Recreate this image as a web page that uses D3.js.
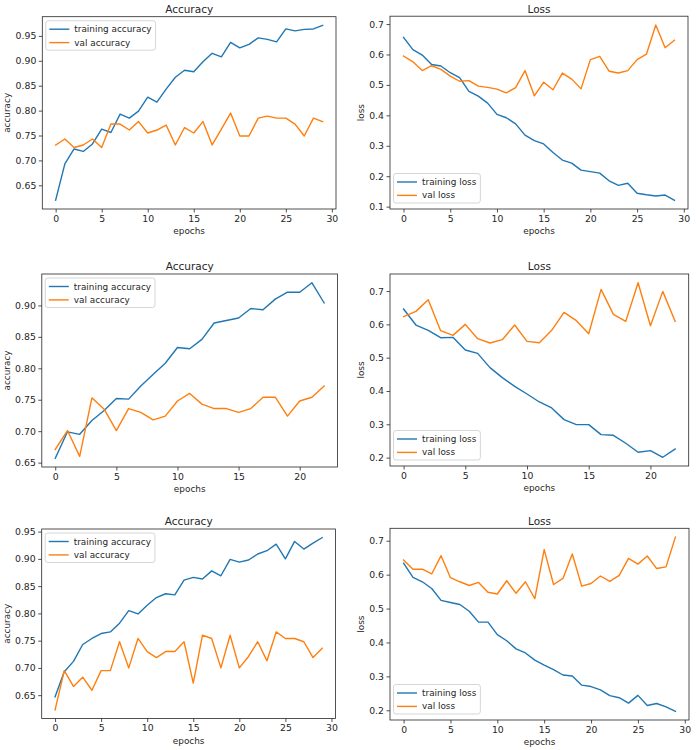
<!DOCTYPE html>
<html>
<head>
<meta charset="utf-8">
<script src="https://cdn.jsdelivr.net/npm/d3@7"></script>
<style>
  html, body { margin: 0; padding: 0; background: #fff; }
  svg { display: block; }
  text { font-family: "DejaVu Sans", sans-serif; fill: #262626; }
</style>
</head>
<body>
<svg id="chart" width="696" height="750"></svg>
<script>
// ---------- data ----------
const acc1Train = [0.620,0.693,0.723,0.718,0.733,0.763,0.756,0.793,0.785,0.799,0.827,0.817,0.843,0.867,0.881,0.878,0.898,0.915,0.908,0.937,0.926,0.933,0.946,0.943,0.938,0.964,0.960,0.963,0.964,0.971];
const acc1Val   = [0.731,0.743,0.726,0.731,0.743,0.726,0.773,0.773,0.761,0.778,0.755,0.761,0.771,0.731,0.766,0.755,0.778,0.731,0.763,0.795,0.749,0.749,0.785,0.789,0.785,0.785,0.773,0.749,0.785,0.778];
const loss1Train = [0.656,0.616,0.598,0.567,0.562,0.540,0.524,0.479,0.463,0.440,0.403,0.392,0.372,0.335,0.317,0.306,0.278,0.253,0.243,0.220,0.215,0.210,0.185,0.170,0.177,0.144,0.139,0.135,0.138,0.121];
const loss1Val   = [0.595,0.576,0.547,0.563,0.551,0.529,0.512,0.514,0.496,0.492,0.486,0.474,0.491,0.547,0.464,0.509,0.484,0.539,0.519,0.487,0.583,0.594,0.545,0.539,0.547,0.583,0.601,0.697,0.622,0.647];

const acc2Train = [0.657,0.699,0.695,0.717,0.733,0.752,0.751,0.772,0.790,0.808,0.833,0.831,0.846,0.872,0.876,0.880,0.895,0.893,0.910,0.921,0.921,0.936,0.904];
const acc2Val   = [0.671,0.701,0.660,0.753,0.735,0.701,0.736,0.730,0.718,0.724,0.748,0.760,0.743,0.736,0.736,0.730,0.736,0.754,0.754,0.724,0.748,0.754,0.772];
const loss2Train = [0.646,0.598,0.582,0.560,0.561,0.523,0.513,0.470,0.440,0.414,0.391,0.367,0.349,0.314,0.299,0.299,0.269,0.267,0.243,0.216,0.221,0.201,0.226];
const loss2Val   = [0.623,0.639,0.674,0.581,0.567,0.600,0.557,0.544,0.554,0.598,0.549,0.545,0.582,0.636,0.611,0.572,0.705,0.630,0.609,0.725,0.596,0.699,0.609];

const acc3Train = [0.647,0.693,0.712,0.743,0.754,0.763,0.766,0.782,0.805,0.799,0.815,0.829,0.836,0.834,0.861,0.866,0.863,0.878,0.869,0.899,0.894,0.898,0.909,0.915,0.927,0.900,0.932,0.918,0.929,0.939];
const acc3Val   = [0.623,0.695,0.666,0.683,0.659,0.695,0.695,0.748,0.700,0.754,0.730,0.719,0.730,0.730,0.748,0.672,0.760,0.754,0.700,0.760,0.700,0.721,0.748,0.713,0.766,0.754,0.754,0.748,0.719,0.736];
const loss3Train = [0.634,0.592,0.579,0.559,0.524,0.518,0.512,0.492,0.460,0.460,0.423,0.405,0.381,0.369,0.348,0.333,0.320,0.304,0.301,0.274,0.270,0.260,0.243,0.237,0.221,0.244,0.214,0.220,0.210,0.197];
const loss3Val   = [0.643,0.616,0.616,0.602,0.656,0.591,0.579,0.568,0.577,0.548,0.543,0.582,0.545,0.579,0.529,0.674,0.571,0.589,0.661,0.566,0.574,0.596,0.580,0.598,0.648,0.631,0.655,0.618,0.623,0.711];

// ---------- tick labels ----------
const xTicks30 = [0,5,10,15,20,25,30];
const xTicks22 = [0,5,10,15,20];
const accTicks1 = [0.65,0.70,0.75,0.80,0.85,0.90,0.95];
const accTicks2 = [0.65,0.70,0.75,0.80,0.85,0.90];
const accTicks3 = [0.65,0.70,0.75,0.80,0.85,0.90,0.95];
const lossTicks1 = [0.1,0.2,0.3,0.4,0.5,0.6,0.7];
const lossTicks2 = [0.2,0.3,0.4,0.5,0.6,0.7];
const lossTicks3 = [0.2,0.3,0.4,0.5,0.6,0.7];

const titles = ["Accuracy", "Loss"];
const yLabels = ["accuracy", "loss"];
const xLabel = "epochs";
const accNames = ["training accuracy", "val accuracy"];
const lossNames = ["training loss", "val loss"];

const colors = ["#1f77b4", "#ff7f0e"];

// ---------- panels (layout) ----------
const panels = [
  {box:{x:42.3,y:16.7,w:293.7,h:192.3}, train:acc1Train, val:acc1Val, xt:xTicks30, yt:accTicks1, fmt:d3.format(".2f"), kind:0, legend:"ul", ylx:35},
  {box:{x:390,y:16.2,w:298,h:192.8}, train:loss1Train, val:loss1Val, xt:xTicks30, yt:lossTicks1, fmt:d3.format(".1f"), kind:1, legend:"ll", ylx:29.5},
  {box:{x:41.8,y:274,w:295.8,h:193}, train:acc2Train, val:acc2Val, xt:xTicks22, yt:accTicks2, fmt:d3.format(".2f"), kind:0, legend:"ul", ylx:35},
  {box:{x:390,y:274,w:298.7,h:192}, train:loss2Train, val:loss2Val, xt:xTicks22, yt:lossTicks2, fmt:d3.format(".1f"), kind:1, legend:"ll", ylx:29.5},
  {box:{x:41.7,y:529,w:293.9,h:189.5}, train:acc3Train, val:acc3Val, xt:xTicks30, yt:accTicks3, fmt:d3.format(".2f"), kind:0, legend:"ul", ylx:35},
  {box:{x:390,y:528.3,w:299,h:191.7}, train:loss3Train, val:loss3Val, xt:xTicks30, yt:lossTicks3, fmt:d3.format(".1f"), kind:1, legend:"ll", ylx:29.5}
];

const svg = d3.select("#chart");
svg.append("rect").attr("width",696).attr("height",750).attr("fill","#fff");

function padDomain(lo, hi) {
  const r = hi - lo;
  return [lo - 0.05*r, hi + 0.05*r];
}

panels.forEach(p => {
  const b = p.box;
  const g = svg.append("g").attr("transform", `translate(${b.x},${b.y})`);
  const n = p.train.length;
  const x = d3.scaleLinear().domain(padDomain(0, n-1)).range([0, b.w]);
  const all = p.train.concat(p.val);
  const y = d3.scaleLinear().domain(padDomain(d3.min(all), d3.max(all))).range([b.h, 0]);

  // lines
  const line = d3.line().x((d,i) => x(i)).y(d => y(d));
  [p.train, p.val].forEach((s, k) => {
    g.append("path").datum(s)
      .attr("d", line)
      .attr("fill","none")
      .attr("stroke", colors[k])
      .attr("stroke-width", 1.4)
      .attr("stroke-linejoin","round")
      .attr("stroke-linecap","square");
  });

  // axes
  const xa = d3.axisBottom(x).tickValues(p.xt).tickFormat(d3.format("d")).tickSizeOuter(0).tickSize(3.5).tickPadding(2.5);
  const ya = d3.axisLeft(y).tickValues(p.yt).tickFormat(p.fmt).tickSizeOuter(0).tickSize(3.5).tickPadding(2.5);
  const gx = g.append("g").attr("transform", `translate(0,${b.h})`).call(xa);
  const gy = g.append("g").call(ya);
  [gx, gy].forEach(a => {
    a.select(".domain").remove();
    a.selectAll(".tick line").attr("stroke","#262626").attr("stroke-width",0.8);
    a.selectAll(".tick text").attr("font-size", 9.3).attr("font-family","DejaVu Sans").attr("fill","#262626");
  });

  // frame
  g.append("rect").attr("x",0).attr("y",0).attr("width",b.w).attr("height",b.h)
    .attr("fill","none").attr("stroke","#262626").attr("stroke-width",0.8);

  // title
  g.append("text").attr("x", b.w/2).attr("y", -3.6)
    .attr("text-anchor","middle").attr("font-size",10.5)
    .text(titles[p.kind]);

  // axis labels
  g.append("text").attr("x", b.w/2).attr("y", b.h + 25)
    .attr("text-anchor","middle").attr("font-size",8.9)
    .text(xLabel);
  g.append("text")
    .attr("transform", `translate(${-p.ylx},${b.h/2}) rotate(-90)`)
    .attr("text-anchor","middle").attr("dominant-baseline","central").attr("font-size",8.9)
    .text(yLabels[p.kind]);

  // legend
  const names = p.kind === 0 ? accNames : lossNames;
  const lg = g.append("g");
  const bh = 29.5;
  const bx = 3.5;
  const by = p.legend === "ul" ? 4 : b.h - 6 - bh;
  const box = lg.append("rect").attr("x",bx).attr("y",by).attr("height",bh)
    .attr("rx",2.5).attr("ry",2.5)
    .attr("fill","#fff").attr("fill-opacity",0.8)
    .attr("stroke","#cccccc").attr("stroke-width",0.8);
  let maxW = 0;
  names.forEach((nm, k) => {
    const cy = by + 8.5 + k*13.4;
    lg.append("line").attr("x1", bx+3.5).attr("x2", bx+23.5).attr("y1", cy).attr("y2", cy)
      .attr("stroke", colors[k]).attr("stroke-width",1.4);
    const t = lg.append("text").attr("x", bx+28.5).attr("y", cy)
      .attr("dominant-baseline","central").attr("font-size",8.9).text(nm);
    maxW = Math.max(maxW, t.node().getComputedTextLength());
  });
  box.attr("width", maxW + 28.5 + 4);
});
</script>
</body>
</html>
